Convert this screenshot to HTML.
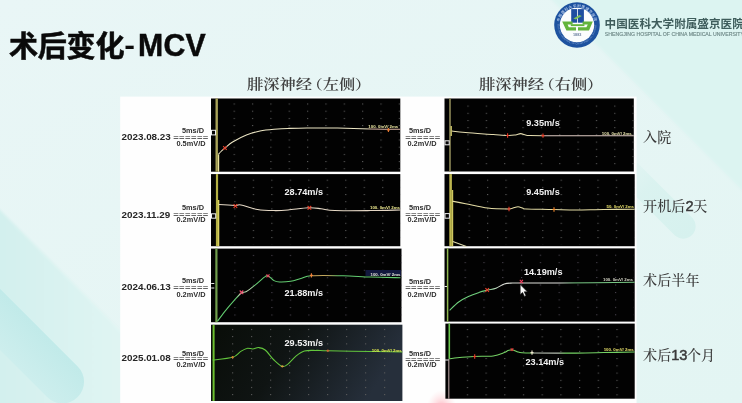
<!DOCTYPE html>
<html lang="zh-CN">
<head>
<meta charset="utf-8">
<title>术后变化-MCV</title>
<style>
html,body{margin:0;padding:0;}
body{width:742px;height:403px;overflow:hidden;position:relative;background:#e7f6f5;font-family:"Liberation Sans","Noto Sans CJK SC",sans-serif;}
.abs{position:absolute;white-space:nowrap;}
#title{left:9px;top:26.9px;font-size:29px;line-height:40px;font-weight:700;color:#0a0a0a;letter-spacing:-0.2px;-webkit-text-stroke:0.55px #0a0a0a;}
#title .lat{display:inline-block;letter-spacing:0.3px;font-weight:700;font-size:30.7px;transform:scaleX(0.985);transform-origin:0 50%;position:relative;top:-1.4px;left:5px;-webkit-text-stroke:0.5px #0a0a0a;}
#title .hy{display:inline-block;font-weight:700;font-size:28px;position:relative;left:1.2px;top:-1.9px;transform:scaleX(1.15);-webkit-text-stroke:0;}
.hdr{font-family:"Liberation Serif","Noto Serif CJK SC",serif;font-size:13.6px;line-height:20px;color:#404040;font-weight:600;transform:scaleX(1.195);transform-origin:0 50%;}
.date{font-size:9.85px;line-height:12px;font-weight:700;color:#262626;left:121.5px;}
.sc{font-size:6.3px;line-height:7px;font-weight:700;color:#2e2e2e;text-align:center;width:40px;transform:scaleX(1.17);}
.eq{font-size:7px;line-height:7px;font-weight:700;color:#626262;text-align:center;width:40px;letter-spacing:0.35px;transform:scaleX(1.34);}
.rl{font-family:"Liberation Serif","Noto Serif CJK SC",serif;font-size:14px;line-height:18px;color:#3a3a3a;left:643px;font-weight:500;letter-spacing:0.15px;}
.rl b{font-family:"Liberation Sans",sans-serif;font-weight:400;font-size:14.6px;letter-spacing:-0.3px;-webkit-text-stroke:0.5px #3a3a3a;}
#hosp{left:604.6px;top:15.2px;font-size:11.6px;line-height:18px;font-weight:700;color:#3f5d5c;letter-spacing:0;font-family:"Liberation Sans","Noto Sans CJK SC",sans-serif;}
#hospen{left:604.8px;top:31px;font-size:5.18px;line-height:7px;color:#6f8988;font-weight:400;-webkit-text-stroke:0.15px #6f8988;}
</style>
</head>
<body>
<svg width="742" height="403" viewBox="0 0 742 403" style="position:absolute;left:0;top:0">
<defs><linearGradient id="bgg" x1="0" y1="0" x2="1" y2="1"><stop offset="0" stop-color="#e9f6f6"/><stop offset="1" stop-color="#e3f5f3"/></linearGradient><linearGradient id="cap2" gradientUnits="userSpaceOnUse" x1="693" y1="236" x2="600" y2="143"><stop offset="0" stop-color="#d6f1ee"/><stop offset="0.5" stop-color="#d9f2ef" stop-opacity="0.9"/><stop offset="1" stop-color="#e0f4f2" stop-opacity="0"/></linearGradient><linearGradient id="b1g" gradientUnits="userSpaceOnUse" x1="0" y1="0" x2="125" y2="0"><stop offset="0" stop-color="#d3f0ee"/><stop offset="1" stop-color="#e0f5f3"/></linearGradient><linearGradient id="capg" gradientUnits="userSpaceOnUse" x1="77.7" y1="366.5" x2="47.1" y2="397.1"><stop offset="0" stop-color="#c1eae9"/><stop offset="1" stop-color="#cdeeed"/></linearGradient></defs>
<rect width="742" height="403" fill="url(#bgg)"/>
<path d="M-6 204L206 416H-6Z" fill="url(#b1g)" style="filter:blur(0.8px)"/>
<path d="M-205.3 83.5L77.7 366.5A21.6 21.6 0 0 1 47.1 397.1L-235.9 114.1Z" fill="url(#capg)"/>
<path d="M546 -6L760 208V-6Z" fill="#dcf4f1" style="filter:blur(1.2px)"/>
<path d="M392.8 -81.8L692.8 218.2A12.5 12.5 0 0 1 675.2 235.8L375.2 -64.2Z" fill="url(#cap2)"/>
</svg>
<svg width="742" height="403" viewBox="0 0 742 403" style="position:absolute;left:0;top:0">
<defs><pattern id="dl0" x="233.6" y="103.5" width="18.35" height="7.2" patternUnits="userSpaceOnUse"><rect width="1.2" height="1" fill="#5c5c5c"/></pattern>
<pattern id="dl1" x="234.3" y="179.7" width="18.48" height="7.18" patternUnits="userSpaceOnUse"><rect width="1.2" height="1" fill="#5c5c5c"/></pattern>
<pattern id="dl2" x="234.3" y="254.9" width="18.5" height="7.45" patternUnits="userSpaceOnUse"><rect width="1.2" height="1" fill="#4a4450"/></pattern>
<pattern id="dl3" x="232.0" y="328.9" width="19.0" height="7.25" patternUnits="userSpaceOnUse"><rect width="1.2" height="1" fill="#5c5c5c"/></pattern>
<pattern id="dr0" x="467.4" y="105.6" width="18.35" height="7.2" patternUnits="userSpaceOnUse"><rect width="1.2" height="1" fill="#5c5c5c"/></pattern>
<pattern id="dr1" x="468.59999999999997" y="179.7" width="18.4" height="7.18" patternUnits="userSpaceOnUse"><rect width="1.2" height="1" fill="#5c5c5c"/></pattern>
<pattern id="dr2" x="464.59999999999997" y="254.7" width="18.8" height="7.45" patternUnits="userSpaceOnUse"><rect width="1.2" height="1" fill="#4a4450"/></pattern>
<pattern id="dr3" x="466.79999999999995" y="329.1" width="18.7" height="7.25" patternUnits="userSpaceOnUse"><rect width="1.2" height="1" fill="#5c5c5c"/></pattern>
<linearGradient id="g4" x1="0" y1="0" x2="1" y2="0.25"><stop offset="0" stop-color="#090d08"/><stop offset="0.45" stop-color="#0f1413"/><stop offset="1" stop-color="#262f3b"/></linearGradient>
<radialGradient id="glow" cx="0.5" cy="0.5" r="0.5"><stop offset="0" stop-color="#ff6a7e" stop-opacity="0.6"/><stop offset="0.45" stop-color="#ff8a98" stop-opacity="0.28"/><stop offset="1" stop-color="#ffb0b8" stop-opacity="0"/></radialGradient>
</defs>
<rect x="120.2" y="96.6" width="516.4" height="307" fill="#fefefe"/>
<ellipse cx="441.5" cy="409" rx="15" ry="19" fill="url(#glow)"/>
<rect x="211" y="98.5" width="189.3" height="73.2" fill="#020202"/>
<rect x="225" y="101.5" width="175.3" height="68.2" fill="url(#dl0)"/>
<rect x="211" y="174.1" width="189.3" height="72.1" fill="#020202"/>
<rect x="225" y="177.1" width="175.3" height="67.1" fill="url(#dl1)"/>
<rect x="211" y="248.6" width="190.5" height="73.6" fill="#020202"/>
<rect x="225" y="251.6" width="176.5" height="68.6" fill="url(#dl2)"/>
<rect x="211" y="324.7" width="191.4" height="76.3" fill="url(#g4)"/>
<rect x="225" y="327.7" width="177.4" height="71.3" fill="url(#dl3)"/>
<rect x="444.5" y="98.5" width="189.29999999999998" height="73.0" fill="#020202"/>
<rect x="458.5" y="101.5" width="176.2" height="68.0" fill="url(#dr0)"/>
<rect x="444.5" y="174.1" width="190.2" height="72.1" fill="#020202"/>
<rect x="458.5" y="177.1" width="176.2" height="67.1" fill="url(#dr1)"/>
<rect x="444.5" y="248.4" width="190.2" height="73.2" fill="#020202"/>
<rect x="458.5" y="251.4" width="176.2" height="68.2" fill="url(#dr2)"/>
<rect x="445.4" y="323.6" width="189.29999999999998" height="75.1" fill="#020202"/>
<rect x="458.5" y="326.6" width="176.2" height="70.1" fill="url(#dr3)"/>
<path d="M216.7 98.5V171.7" stroke="#a8a258" stroke-width="2.4" fill="none"/>
<path d="M218.6 154.4V171.7" stroke="#e8e29a" stroke-width="1.2"/>
<path d="M217 174.1V246.2" stroke="#b4b044" stroke-width="2.2" fill="none"/>
<path d="M218.6 200V246.2" stroke="#d8d060" stroke-width="1.4"/>
<path d="M216.4 248.6V322.2" stroke="#709e4c" stroke-width="2.2" fill="none"/>
<path d="M213.6 325V401" stroke="#6cc030" stroke-width="2" fill="none"/>
<path d="M450 98.5V171.5" stroke="#8e8a58" stroke-width="1.6" fill="none"/>
<path d="M451.2 126V136" stroke="#d8d070" stroke-width="1.3"/>
<path d="M450.6 174.1V246.2" stroke="#bdb650" stroke-width="2.6" fill="none"/>
<path d="M452.6 190V246.2" stroke="#cfc860" stroke-width="1.2"/>
<path d="M452.8 241.6L466.4 246.4" stroke="#e0dcb0" stroke-width="1.1"/>
<path d="M447.6 248.4V321.6" stroke="#90b850" stroke-width="1.5" fill="none"/>
<path d="M449.3 323.6V358.7" stroke="#6cc850" stroke-width="1.6" fill="none"/>
<path d="M448.8 358.7V398.7" stroke="#a89494" stroke-width="1.2" fill="none"/>
<defs><linearGradient id="cL1" gradientUnits="userSpaceOnUse" x1="0" y1="0" x2="401" y2="0"><stop offset="0.0000" stop-color="#ece6c4"/><stop offset="0.9127" stop-color="#ece6c4"/><stop offset="0.9277" stop-color="#dcb4a4"/><stop offset="1.0000" stop-color="#dcb4a4"/></linearGradient><linearGradient id="cL2" gradientUnits="userSpaceOnUse" x1="0" y1="0" x2="401" y2="0"><stop offset="0.0000" stop-color="#e8dec8"/><stop offset="1.0000" stop-color="#e4d6c4"/></linearGradient><linearGradient id="cL3" gradientUnits="userSpaceOnUse" x1="0" y1="0" x2="401" y2="0"><stop offset="0.0000" stop-color="#62cc70"/><stop offset="0.5885" stop-color="#62cc70"/><stop offset="0.5985" stop-color="#b8d8b0"/><stop offset="0.6234" stop-color="#b8d8b0"/><stop offset="0.6384" stop-color="#62cc70"/><stop offset="0.7731" stop-color="#62cc70"/><stop offset="0.7805" stop-color="#c8a458"/><stop offset="0.8180" stop-color="#c0a860"/><stop offset="0.8479" stop-color="#62cc70"/><stop offset="1.0000" stop-color="#62cc70"/></linearGradient><linearGradient id="cL4" gradientUnits="userSpaceOnUse" x1="0" y1="0" x2="403" y2="0"><stop offset="0.0000" stop-color="#62c63c"/><stop offset="1.0000" stop-color="#62c63c"/></linearGradient><linearGradient id="cR1" gradientUnits="userSpaceOnUse" x1="0" y1="0" x2="636" y2="0"><stop offset="0.0000" stop-color="#e4dcb0"/><stop offset="0.8506" stop-color="#e4dcb0"/><stop offset="0.8569" stop-color="#dcc8c0"/><stop offset="1.0000" stop-color="#dcc8c0"/></linearGradient><linearGradient id="cR2" gradientUnits="userSpaceOnUse" x1="0" y1="0" x2="636" y2="0"><stop offset="0.0000" stop-color="#e4dca4"/><stop offset="1.0000" stop-color="#e4dca4"/></linearGradient><linearGradient id="cR3" gradientUnits="userSpaceOnUse" x1="0" y1="0" x2="636" y2="0"><stop offset="0.0000" stop-color="#6fcf7c"/><stop offset="0.7642" stop-color="#6fcf7c"/><stop offset="0.7862" stop-color="#d8dcd4"/><stop offset="0.8805" stop-color="#e0e0dc"/><stop offset="0.9041" stop-color="#78c884"/><stop offset="1.0000" stop-color="#78c884"/></linearGradient><linearGradient id="cR4" gradientUnits="userSpaceOnUse" x1="0" y1="0" x2="636" y2="0"><stop offset="0.0000" stop-color="#74d264"/><stop offset="0.8349" stop-color="#74d264"/><stop offset="0.8396" stop-color="#b4bcb0"/><stop offset="0.8774" stop-color="#b4bcb0"/><stop offset="0.8899" stop-color="#74d264"/><stop offset="1.0000" stop-color="#74d264"/></linearGradient></defs>
<path d="M218.3 154.4C218.8 153.9 219.8 152.7 221.0 151.5C222.2 150.3 223.8 149.1 225.7 147.5C227.6 145.9 229.1 144.1 232.6 142.0C236.1 139.9 241.8 136.8 246.4 135.0C251.0 133.2 255.4 131.9 260.0 131.0C264.6 130.1 269.3 129.7 274.0 129.3C278.7 128.9 282.5 128.6 288.0 128.4C293.5 128.2 298.7 128.0 307.0 127.9C315.3 127.9 327.0 127.9 337.6 128.1C348.2 128.3 360.2 128.8 370.7 129.0C381.2 129.2 395.4 129.2 400.4 129.3" stroke="url(#cL1)" stroke-width="1.05" fill="none" stroke-linecap="butt"/>
<path d="M218.8 204.5C221.6 204.7 231.7 205.3 235.4 205.4C239.1 205.5 237.3 204.3 241.0 205.0C244.7 205.7 252.0 208.6 257.5 209.5C263.0 210.4 268.9 210.5 274.0 210.6C279.1 210.7 282.2 210.5 288.0 210.0C293.8 209.5 303.1 208.0 308.6 207.8C314.1 207.6 316.6 208.2 321.0 208.7C325.4 209.2 326.5 210.3 334.8 210.6C343.1 210.9 359.8 210.7 370.7 210.6C381.6 210.5 395.4 210.1 400.4 210.0" stroke="url(#cL2)" stroke-width="1.05" fill="none" stroke-linecap="butt"/>
<path d="M217.4 321.3C218.8 319.5 222.9 313.8 225.7 310.3C228.5 306.9 231.4 303.5 234.0 300.6C236.6 297.8 238.9 294.7 241.0 293.2C243.1 291.7 244.1 292.8 246.4 291.5C248.7 290.2 251.7 287.8 254.7 285.4C257.7 283.0 262.2 278.7 264.4 277.1C266.6 275.5 266.4 275.2 268.0 275.8C269.6 276.4 272.1 279.6 274.0 280.6C275.9 281.6 276.8 281.9 279.6 282.0C282.4 282.1 286.9 281.9 290.6 281.3C294.3 280.7 298.2 279.1 301.7 278.2C305.2 277.3 304.5 276.2 311.4 275.8C318.3 275.4 333.1 275.6 343.0 275.8C352.9 276.0 361.1 276.8 370.7 277.1C380.3 277.4 395.4 277.6 400.4 277.7" stroke="url(#cL3)" stroke-width="1.05" fill="none" stroke-linecap="butt"/>
<path d="M212.7 360.0C216.0 359.6 228.0 358.7 232.6 357.3C237.2 355.9 238.1 353.1 240.5 351.6C242.9 350.1 244.8 348.8 246.8 348.4C248.9 347.9 250.8 349.0 252.8 348.9C254.8 348.8 256.6 347.4 258.7 347.6C260.8 347.8 262.6 347.9 265.2 350.0C267.8 352.1 271.1 357.3 274.0 360.0C276.9 362.7 280.0 365.7 282.3 366.4C284.6 367.1 285.6 365.9 287.9 364.2C290.2 362.4 293.4 358.1 296.2 355.9C298.9 353.7 301.2 351.9 304.4 351.0C307.6 350.1 311.6 350.4 315.5 350.4C319.4 350.3 318.7 350.5 327.9 350.7C337.1 350.9 358.3 351.3 370.7 351.5C383.1 351.7 397.1 352.0 402.4 352.1" stroke="url(#cL4)" stroke-width="1.05" fill="none" stroke-linecap="butt"/>
<path d="M451.8 131.0C454.1 131.3 458.7 132.0 465.6 132.6C472.5 133.2 486.1 134.0 493.2 134.5C500.3 135.0 504.3 135.4 508.0 135.5C511.7 135.6 513.4 135.2 515.5 134.9C517.6 134.6 518.8 133.6 520.5 133.6C522.2 133.6 524.1 134.6 525.5 134.9C526.9 135.2 526.1 135.4 529.0 135.5C531.9 135.6 525.5 135.6 543.0 135.7C560.5 135.7 618.7 135.7 633.8 135.7" stroke="url(#cR1)" stroke-width="1.05" fill="none" stroke-linecap="butt"/>
<path d="M452.4 201.2C454.6 201.6 459.7 202.5 465.6 203.7C471.5 204.8 480.6 207.2 487.7 208.1C494.8 209.0 504.2 209.0 508.4 209.0C512.6 209.0 511.4 208.4 513.0 208.0C514.6 207.6 516.3 206.7 518.0 206.7C519.7 206.7 521.6 207.8 523.0 208.2C524.4 208.6 521.2 208.8 526.4 209.0C531.6 209.2 545.7 209.3 554.0 209.5C562.3 209.7 567.7 210.0 576.0 210.0C584.3 210.0 593.9 209.6 603.7 209.5C613.5 209.4 629.5 209.2 634.7 209.2" stroke="url(#cR2)" stroke-width="1.05" fill="none" stroke-linecap="butt"/>
<path d="M449.6 310.3C451.1 308.9 455.6 304.3 458.7 302.0C461.8 299.7 464.9 298.1 468.4 296.5C471.8 294.9 476.2 293.4 479.4 292.3C482.6 291.2 484.9 290.8 487.7 290.1C490.5 289.4 493.2 289.2 496.0 288.2C498.8 287.2 501.5 284.9 504.3 284.0C507.1 283.1 509.8 283.2 512.6 283.0C515.4 282.8 513.0 283.0 520.9 283.0C528.8 283.0 541.0 283.1 560.0 283.0C579.0 282.9 622.2 282.4 634.7 282.3" stroke="url(#cR3)" stroke-width="1.05" fill="none" stroke-linecap="butt"/>
<path d="M449.0 358.7C450.4 358.6 453.1 358.2 457.3 357.8C461.5 357.4 468.0 356.8 474.0 356.5C480.0 356.2 488.1 356.5 493.2 355.9C498.2 355.2 501.8 353.5 504.3 352.6C506.8 351.7 506.7 351.1 508.0 350.6C509.3 350.1 510.8 349.8 512.0 349.8C513.2 349.8 514.0 350.3 515.0 350.7C516.0 351.1 516.8 351.6 518.0 352.0C519.2 352.4 519.7 352.6 522.0 352.8C524.3 353.0 523.0 352.9 532.0 353.0C541.0 353.1 564.0 353.2 576.0 353.1C588.0 353.0 593.9 352.8 603.7 352.6C613.5 352.4 629.5 352.1 634.7 352.0" stroke="url(#cR4)" stroke-width="1.05" fill="none" stroke-linecap="butt"/>
<rect x="211.5" y="130.3" width="4" height="4.6" fill="#050505" stroke="#f0f0f0" stroke-width="1"/>
<rect x="211.5" y="213.8" width="4.2" height="4.4" fill="#050505" stroke="#f0f0f0" stroke-width="1"/>
<path d="M211.2 283.5H214.3M211.2 288H214.3" stroke="#e8e8e8" stroke-width="1"/>
<rect x="445" y="140.8" width="4.2" height="4" fill="#050505" stroke="#f0f0f0" stroke-width="1"/>
<rect x="445" y="213.6" width="4.4" height="4.6" fill="#050505" stroke="#f0f0f0" stroke-width="1"/>
<path d="M444.5 286.5H447" stroke="#e8e8e8" stroke-width="1"/>
<path d="M445 360H448.5" stroke="#e8e8e8" stroke-width="1"/>
<path d="M223.1 146.2L226.7 149.8M223.1 149.8L226.7 146.2" stroke="#e8402c" stroke-width="1.1" fill="none"/>
<path d="M388.4 128.1V131.9M386.9 130.0H389.9" stroke="#ec7c34" stroke-width="1.1" fill="none"/>
<path d="M233.6 204.2L237.2 207.8M233.6 207.8L237.2 204.2" stroke="#e8402c" stroke-width="1.1" fill="none"/>
<path d="M307.6 206.0L311.2 209.6M307.6 209.6L311.2 206.0" stroke="#e8402c" stroke-width="1.1" fill="none"/>
<path d="M239.7 290.5L243.3 294.1M239.7 294.1L243.3 290.5" stroke="#f05070" stroke-width="1.1" fill="none"/>
<path d="M266.5 274.3L269.5 277.3M266.5 277.3L269.5 274.3" stroke="#e84860" stroke-width="1.1" fill="none"/>
<path d="M311.4 273.2V277.6M309.9 275.4H312.9" stroke="#f0843c" stroke-width="1.1" fill="none"/>
<path d="M232.6 356.0V358.6M231.1 357.3H234.1" stroke="#d08030" stroke-width="1.1" fill="none"/>
<path d="M282.3 365.2V367.6M280.8 366.4H283.8" stroke="#d0a040" stroke-width="1.1" fill="none"/>
<path d="M327.9 349.4V352.0M326.4 350.7H329.4" stroke="#d06030" stroke-width="1.1" fill="none"/>
<path d="M507.6 133.3V137.7M506.1 135.5H509.1" stroke="#e8402c" stroke-width="1.1" fill="none"/>
<path d="M543.0 133.4V137.8M541.5 135.6H544.5" stroke="#e8402c" stroke-width="1.1" fill="none"/>
<path d="M509.0 206.8V211.2M507.5 209.0H510.5" stroke="#e8402c" stroke-width="1.1" fill="none"/>
<path d="M554.0 207.3V211.7M552.5 209.5H555.5" stroke="#f08a30" stroke-width="1.1" fill="none"/>
<path d="M485.4 288.2L489.0 291.8M485.4 291.8L489.0 288.2" stroke="#e8402c" stroke-width="1.1" fill="none"/>
<path d="M519.8 279.9L523.0 283.1M519.8 283.1L523.0 279.9" stroke="#f04060" stroke-width="1.1" fill="none"/>
<path d="M474.7 354.3V358.7M473.2 356.5H476.2" stroke="#e8402c" stroke-width="1.1" fill="none"/>
<path d="M510.7 348.3L513.3 350.9M510.7 350.9L513.3 348.3" stroke="#e84040" stroke-width="1.1" fill="none"/>
<path d="M532.0 350.4V354.8M530.5 352.6H533.5" stroke="#f0e8d0" stroke-width="1.1" fill="none"/>
<text x="368.3" y="127.9" font-family="Liberation Sans, sans-serif" font-size="4.2" font-weight="700" fill="#f0eca4" textLength="30" lengthAdjust="spacingAndGlyphs">100. 0mV/ 2ms</text>
<text x="370" y="208.9" font-family="Liberation Sans, sans-serif" font-size="4.2" font-weight="700" fill="#f0ec90" textLength="30" lengthAdjust="spacingAndGlyphs">100. 0mV/ 2ms</text>
<rect x="365.5" y="270" width="35.5" height="6" fill="#12183e"/>
<text x="370.5" y="275.6" font-family="Liberation Sans, sans-serif" font-size="4.2" font-weight="700" fill="#e8e8d8" textLength="30" lengthAdjust="spacingAndGlyphs">100. 0mV/ 2ms</text>
<text x="371.8" y="352" font-family="Liberation Sans, sans-serif" font-size="4.2" font-weight="700" fill="#e4ec50" textLength="30" lengthAdjust="spacingAndGlyphs">100. 0mV/ 2ms</text>
<text x="601.8" y="134.6" font-family="Liberation Sans, sans-serif" font-size="4.2" font-weight="700" fill="#ece8b0" textLength="30" lengthAdjust="spacingAndGlyphs">100. 0mV/ 2ms</text>
<text x="606.5" y="208.2" font-family="Liberation Sans, sans-serif" font-size="4.2" font-weight="700" fill="#e8e06a" textLength="27.5" lengthAdjust="spacingAndGlyphs">50. 0mV/ 2ms</text>
<text x="603" y="280.8" font-family="Liberation Sans, sans-serif" font-size="4.2" font-weight="700" fill="#d8d8c8" textLength="30" lengthAdjust="spacingAndGlyphs">100. 0mV/ 2ms</text>
<text x="603.7" y="351" font-family="Liberation Sans, sans-serif" font-size="4.2" font-weight="700" fill="#e8e06a" textLength="30" lengthAdjust="spacingAndGlyphs">100. 0mV/ 2ms</text>
<text x="303.8" y="194.9" text-anchor="middle" font-family="Liberation Sans, sans-serif" font-size="9.15" font-weight="700" fill="#f2f2f2">28.74m/s</text>
<text x="303.8" y="295.7" text-anchor="middle" font-family="Liberation Sans, sans-serif" font-size="9.15" font-weight="700" fill="#f2f2f2">21.88m/s</text>
<text x="303.8" y="345.90000000000003" text-anchor="middle" font-family="Liberation Sans, sans-serif" font-size="9.15" font-weight="700" fill="#f2f2f2">29.53m/s</text>
<text x="543" y="125.89999999999999" text-anchor="middle" font-family="Liberation Sans, sans-serif" font-size="9.15" font-weight="700" fill="#f2f2f2">9.35m/s</text>
<text x="543" y="195.3" text-anchor="middle" font-family="Liberation Sans, sans-serif" font-size="9.15" font-weight="700" fill="#f2f2f2">9.45m/s</text>
<text x="543.2" y="274.8" text-anchor="middle" font-family="Liberation Sans, sans-serif" font-size="9.15" font-weight="700" fill="#f2f2f2">14.19m/s</text>
<text x="544.8" y="365.2" text-anchor="middle" font-family="Liberation Sans, sans-serif" font-size="9.15" font-weight="700" fill="#f2f2f2">23.14m/s</text>
<path d="M520.2 284.6V294.6L522.6 292.4L524.4 296.4L526 295.7L524.2 291.8H527.4Z" fill="#fafafa" stroke="#111" stroke-width="0.6"/>
</svg>
<div id="title" class="abs">术后变化<span class="hy">-</span><span class="lat">MCV</span></div>
<svg width="52" height="52" viewBox="0 0 52 52" style="position:absolute;left:550.6px;top:-1.2px">
<defs><path id="arcT" d="M8.2 26A17.8 17.8 0 0 1 43.8 26"/><path id="arcB" d="M6.6 26A19.4 19.4 0 0 0 45.4 26"/></defs>
<circle cx="26" cy="26" r="22.8" fill="#1d529f"/>
<circle cx="26" cy="26" r="17.2" fill="#fbfdfd"/>
<text font-family="Liberation Sans, Noto Sans CJK SC, sans-serif" font-size="3.6" font-weight="700" fill="#a9c0e4" letter-spacing="0.5"><textPath href="#arcT" startOffset="50%" text-anchor="middle">中国医科大学附属盛京医院</textPath></text>
<text font-family="Liberation Sans, sans-serif" font-size="2.4" fill="#8eaad6" letter-spacing="0.1"><textPath href="#arcB" startOffset="50%" text-anchor="middle">SHENGJING HOSPITAL OF CHINA MEDICAL UNIVERSITY</textPath></text>
<rect x="20.2" y="10.1" width="5.9" height="13.6" fill="#1e4fa0"/>
<rect x="26.9" y="10.1" width="6" height="13.6" fill="#1e4fa0"/>
<path d="M22.4 19.4L28.4 16L30.8 17L24.8 20.6Z" fill="#7cc25a"/>
<path d="M11.2 22.6H21.6V25.4H16.6L17.8 28.2H25V31.4H15.4L11.2 22.6Z" fill="#63b43c"/>
<path d="M41.8 22.6H31.6V25.4H36.8L35.4 28.2H27V31.4H38L41.8 22.6Z" fill="#63b43c"/>
<rect x="19.8" y="25.2" width="13.6" height="1.9" fill="#63b43c"/>
<text x="26.2" y="37.3" text-anchor="middle" font-family="Liberation Sans, sans-serif" font-size="3.8" font-weight="700" fill="#6a7e9e">1883</text>
</svg>
<div id="hosp" class="abs">中国医科大学附属盛京医院</div>
<div id="hospen" class="abs">SHENGJING HOSPITAL OF CHINA MEDICAL UNIVERSITY</div>
<div class="abs hdr" style="left:247.2px;top:75.1px">腓深神经<span style="margin-left:-4.6px">（</span>左侧<span style="margin-left:-0.4px">）</span></div>
<div class="abs hdr" style="left:479.2px;top:75.1px">腓深神经<span style="margin-left:-4.6px">（</span>右侧<span style="margin-left:-0.4px">）</span></div>
<div class="abs date" style="top:130.5px">2023.08.23</div>
<div class="abs sc" style="left:172.5px;top:126.7px">5ms/D</div>
<div class="abs eq" style="left:171.4px;top:134.0px">======</div>
<div class="abs sc" style="left:171.0px;top:140.0px">0.5mV/D</div>
<div class="abs sc" style="left:399.9px;top:126.7px">5ms/D</div>
<div class="abs eq" style="left:403.0px;top:133.5px">======</div>
<div class="abs sc" style="left:402.1px;top:139.8px">0.2mV/D</div>
<div class="abs date" style="top:209.2px">2023.11.29</div>
<div class="abs sc" style="left:172.5px;top:204.0px">5ms/D</div>
<div class="abs eq" style="left:171.4px;top:211.1px">======</div>
<div class="abs sc" style="left:171.0px;top:216.0px">0.2mV/D</div>
<div class="abs sc" style="left:399.9px;top:204.2px">5ms/D</div>
<div class="abs eq" style="left:403.0px;top:210.7px">======</div>
<div class="abs sc" style="left:402.1px;top:216.1px">0.2mV/D</div>
<div class="abs date" style="top:281.3px">2024.06.13</div>
<div class="abs sc" style="left:172.5px;top:277.3px">5ms/D</div>
<div class="abs eq" style="left:171.4px;top:284.1px">======</div>
<div class="abs sc" style="left:171.0px;top:290.7px">0.2mV/D</div>
<div class="abs sc" style="left:399.9px;top:277.5px">5ms/D</div>
<div class="abs eq" style="left:403.0px;top:283.8px">======</div>
<div class="abs sc" style="left:402.1px;top:290.9px">0.2mV/D</div>
<div class="abs date" style="top:352.2px">2025.01.08</div>
<div class="abs sc" style="left:172.5px;top:350.0px">5ms/D</div>
<div class="abs eq" style="left:171.4px;top:355.2px">======</div>
<div class="abs sc" style="left:171.0px;top:360.8px">0.2mV/D</div>
<div class="abs sc" style="left:399.9px;top:350.0px">5ms/D</div>
<div class="abs eq" style="left:403.0px;top:355.6px">======</div>
<div class="abs sc" style="left:402.1px;top:360.9px">0.2mV/D</div>
<div class="abs rl" style="top:128.5px">入院</div>
<div class="abs rl" style="top:196.5px">开机后<b>2</b>天</div>
<div class="abs rl" style="top:271.9px">术后半年</div>
<div class="abs rl" style="top:346.2px">术后<b>13</b>个月</div>
</body>
</html>
